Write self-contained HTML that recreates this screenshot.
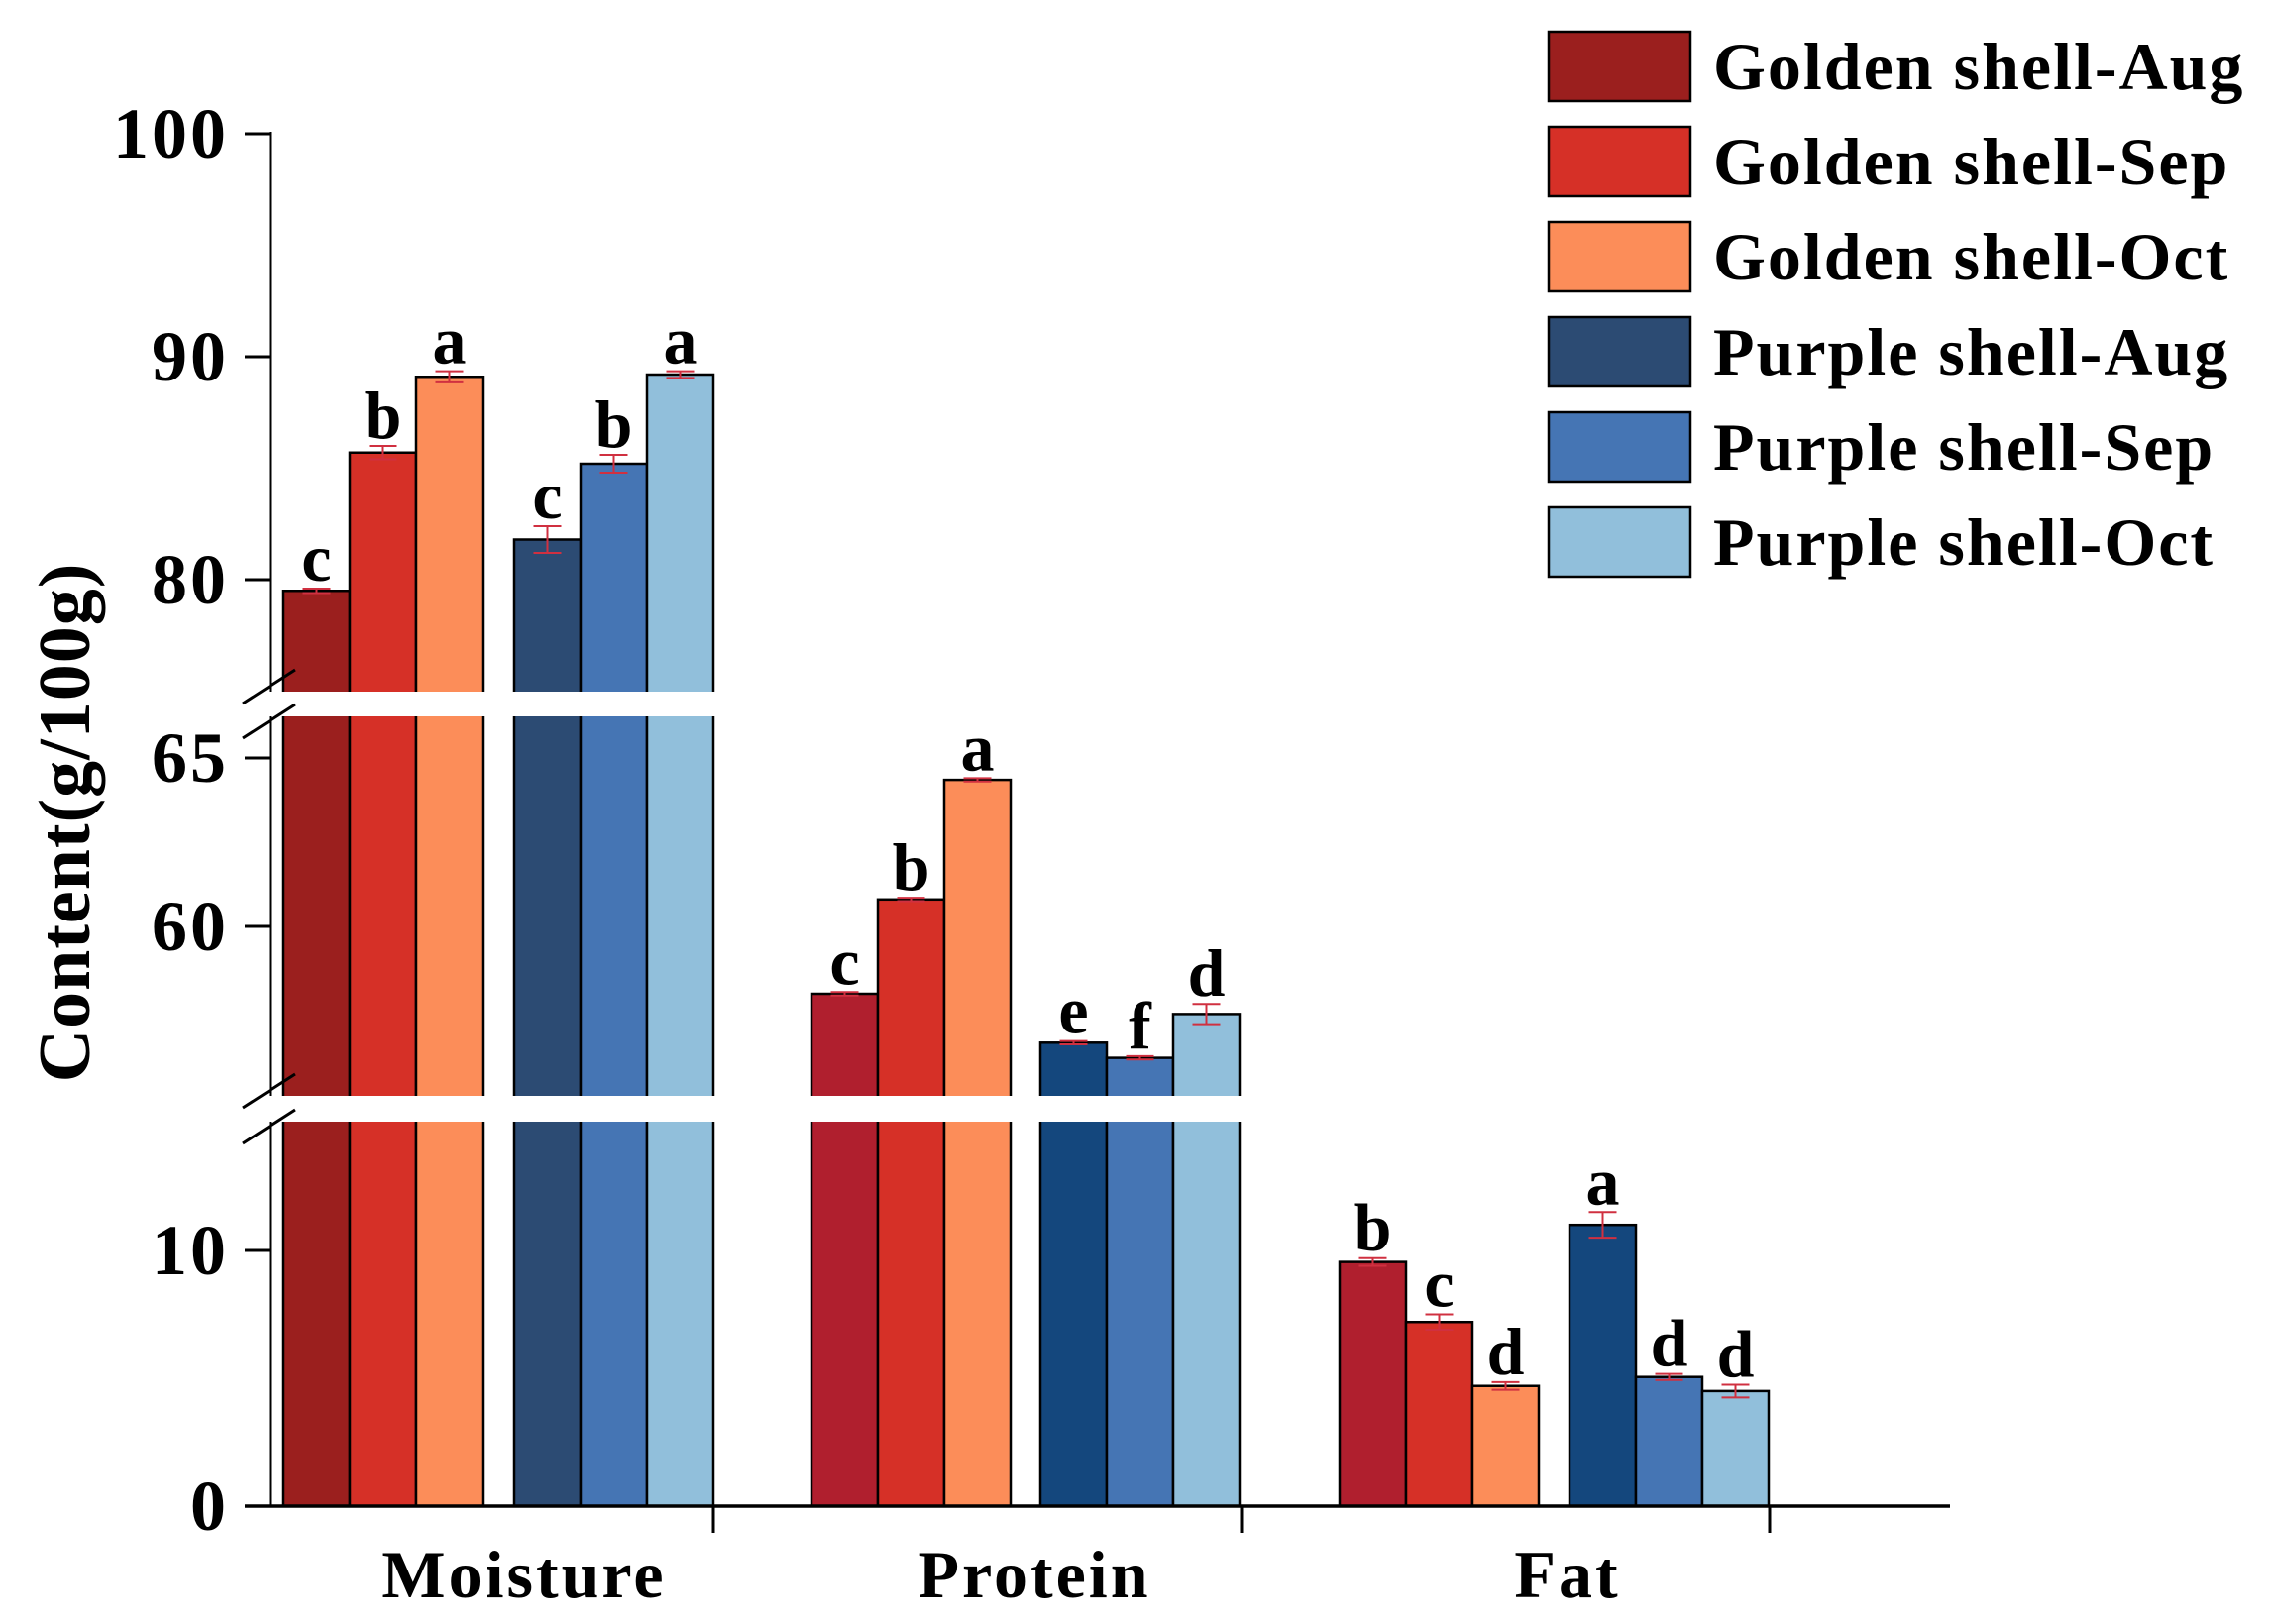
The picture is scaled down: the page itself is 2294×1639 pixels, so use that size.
<!DOCTYPE html>
<html><head><meta charset="utf-8"><style>
html,body{margin:0;padding:0;background:#fff;}
svg{display:block;font-family:"Liberation Serif",serif;font-weight:bold;}
</style></head><body>
<svg id="chart" width="2294" height="1639" viewBox="0 0 2294 1639" xmlns="http://www.w3.org/2000/svg">
<g id="bars"></g>
<g id="axes"></g>
<g id="legend"></g>
</svg>
<script>
const categories = ["Moisture","Protein","Fat"];
const seriesNames = ["Golden shell-Aug","Golden shell-Sep","Golden shell-Oct","Purple shell-Aug","Purple shell-Sep","Purple shell-Oct"];
const moistureVals = [79.5, 85.7, 89.1, 81.8, 85.2, 89.2];
const proteinVals = [58.0, 60.8, 64.35, 56.55, 56.1, 57.4];
const fatVals = [9.55, 7.2, 4.7, 11.0, 5.05, 4.5];
const moistureErr = [0.1, 0.3, 0.25, 0.6, 0.4, 0.15];
const proteinErr = [0.05, 0.05, 0.05, 0.05, 0.05, 0.3];
const fatErr = [0.15, 0.3, 0.15, 0.5, 0.12, 0.25];
const moistureLetters = ["c","b","a","c","b","a"];
const proteinLetters = ["c","b","a","e","f","d"];
const fatLetters = ["b","c","d","a","d","d"];
const yTicks = [0, 10, 60, 65, 80, 90, 100];

const NS = "http://www.w3.org/2000/svg";
function mk(tag, attrs, parent){const e=document.createElementNS(NS,tag);for(const k in attrs)e.setAttribute(k,attrs[k]);parent.appendChild(e);return e;}
function y(v){
  if(v<=15) return 1520 - v*25.8;
  if(v<=66.2) return 935 - (v-60)*34;
  return 585 - (v-80)*22.5;
}
const legendColors = ["#9B1F1E","#D63027","#FC8D59","#2C4B73","#4575B4","#91BFDB"];
const catColors = [legendColors, ["#B01F2E","#D63027","#FC8D59","#14477D","#4575B4","#91BFDB"], ["#B01F2E","#D63027","#FC8D59","#14477D","#4575B4","#91BFDB"]];
const allVals=[moistureVals,proteinVals,fatVals], allErr=[moistureErr,proteinErr,fatErr], allLet=[moistureLetters,proteinLetters,fatLetters];
const groupStart=[[286,519],[819,1050],[1352,1584]];
const bw=67;
const bars=document.getElementById('bars');
for(let c=0;c<3;c++){
  for(let s=0;s<6;s++){
    const x=groupStart[c][Math.floor(s/3)]+(s%3)*bw;
    const v=allVals[c][s], top=y(v);
    const r=mk('rect',{x:x,y:top,width:bw,height:1520-top,fill:catColors[c][s],stroke:'#000','stroke-width':2.5},bars);
    
    
    const e=allErr[c][s], cx=x+bw/2, y1=y(v+e), y2=y(v-e);
    const eb=mk('path',{d:`M${cx} ${y1}V${y2}M${cx-14} ${y1}H${cx+14}M${cx-14} ${y2}H${cx+14}`,stroke:'#D03040','stroke-width':2,fill:'none'},bars);
    
    
    const t=mk('text',{x:cx,y:y1-8,'text-anchor':'middle','font-size':68},bars);
    t.textContent=allLet[c][s];
    
    
  }
}
const axes=document.getElementById('axes');
mk('line',{x1:273,y1:133,x2:273,y2:1521,stroke:'#000','stroke-width':3},axes);
mk('line',{x1:247,y1:1520,x2:1968,y2:1520,stroke:'#000','stroke-width':3.5},axes);
[[698,723],[1106,1132]].forEach(g=>{
  const w=mk('rect',{x:240,y:g[0],width:1740,height:g[1]-g[0],fill:'#fff'},axes);
  
  
  const sl=mk('path',{d:`M245 ${g[0]+12}L298 ${g[0]-22}M245 ${g[1]+22}L298 ${g[1]-12}`,stroke:'#000','stroke-width':3,fill:'none'},axes);
  
  
});
yTicks.forEach(v=>{
  const yy=y(v);
  mk('line',{x1:247,y1:yy,x2:273,y2:yy,stroke:'#000','stroke-width':3},axes);
  const t=mk('text',{x:231,y:yy+24,'text-anchor':'end','font-size':72,'letter-spacing':3},axes);
  t.textContent=v;
  
  
});
[720,1253,1786].forEach(x=>mk('line',{x1:x,y1:1520,x2:x,y2:1547,stroke:'#000','stroke-width':3},axes));
const catX=[529,1044,1582];
categories.forEach((c,i)=>{
  const t=mk('text',{x:catX[i],y:1612,'text-anchor':'middle','font-size':68,'letter-spacing':3},axes);
  t.textContent=c;
  
  
});
const yt=mk('text',{x:0,y:0,'text-anchor':'middle','font-size':74,'letter-spacing':1,transform:'translate(90,830) rotate(-90)'},axes);
yt.textContent='Content(g/100g)';


const lg=document.getElementById('legend');
seriesNames.forEach((n,i)=>{
  const yy=32+i*96;
  const r=mk('rect',{x:1563,y:yy,width:143,height:70,fill:legendColors[i],stroke:'#000','stroke-width':2.5},lg);
  
  
  const t=mk('text',{x:1729,y:yy+58,'font-size':68,'letter-spacing':2},lg);
  t.textContent=n;
  
  
});
</script>
</body></html>
